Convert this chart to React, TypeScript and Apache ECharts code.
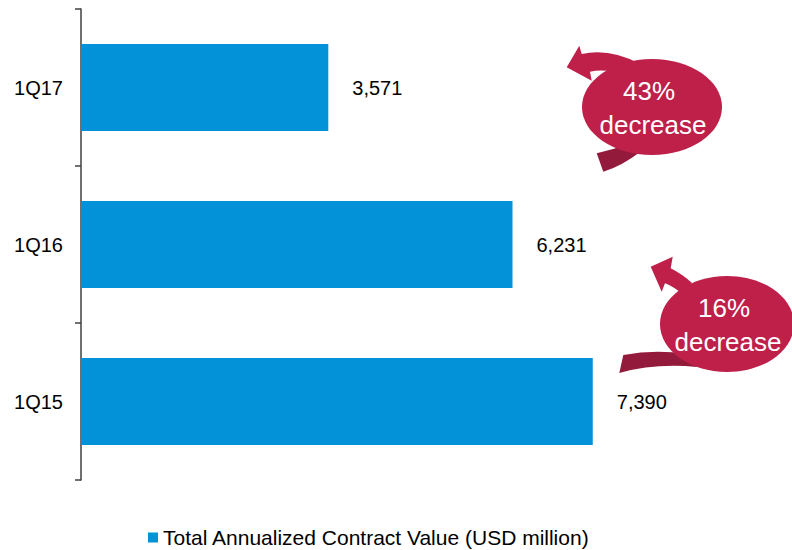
import React, { useEffect, useRef } from "react";
import * as echarts from "echarts";

const categories = ["1Q15", "1Q16", "1Q17"];
const values = [7390, 6231, 3571];
const seriesName = "Total Annualized Contract Value (USD million)";
const badges = [
  { pct: "43%", word: "decrease", cx: 652, cy: 107, rx: 70, ry: 48 },
  { pct: "16%", word: "decrease", cx: 727, cy: 324, rx: 67, ry: 48 },
];

const FONT = "Arial, 'Liberation Sans', sans-serif";
const RED = "#BE2049";
const DARK = "#941A3B";

const shapes: Record<string, string> = {
  arrowTop1:
    "M 566.7 67.3 L 579.3 45.7 L 581.7 54 Q 610 48 640 64 L 625 75 Q 605 68 590 71.7 L 591.7 80.7 Z",
  tailBot1: "M 596.7 153.3 Q 612 150 628 144 L 640 152 Q 622 166 603.3 171.7 Z",
  arrowTop2:
    "M 650.7 266.7 L 672.7 256.7 L 670.7 268.3 Q 682 274 692 283 L 680 292 Q 672 286 665 283.3 L 661.7 291.7 Z",
  tailBot2: "M 623.3 355 Q 655 349 687 354 L 697 367 Q 655 363 619.3 373 Z",
};
let registered = false;
function registerShapes() {
  if (registered) return;
  registered = true;
  Object.keys(shapes).forEach((k) => {
    echarts.graphic.registerShape(k, echarts.graphic.extendPath(shapes[k], {}) as any);
  });
}

export default function App() {
  const ref = useRef<HTMLDivElement>(null);
  useEffect(() => {
    registerShapes();
    const chart = echarts.init(ref.current!, undefined, { renderer: "svg" });
    const graphics: any[] = [];
    graphics.push({ type: "tailBot1", x: 0, y: 0, z: 10, style: { fill: DARK } });
    graphics.push({ type: "arrowTop1", x: 0, y: 0, z: 10, style: { fill: RED } });
    graphics.push({ type: "tailBot2", x: 0, y: 0, z: 10, style: { fill: DARK } });
    graphics.push({ type: "arrowTop2", x: 0, y: 0, z: 10, style: { fill: RED } });
    badges.forEach((b) => {
      graphics.push({
        type: "ellipse",
        z: 11,
        shape: { cx: b.cx, cy: b.cy, rx: b.rx, ry: b.ry },
        style: { fill: RED },
      });
      graphics.push({
        type: "text",
        z: 12,
        x: b.cx - 3,
        y: b.cy - 16,
        style: {
          text: b.pct,
          fill: "#fff",
          fontSize: 26,
          fontFamily: FONT,
          align: "center",
          verticalAlign: "middle",
        },
      });
      graphics.push({
        type: "text",
        z: 12,
        x: b.cx + 1,
        y: b.cy + 18,
        style: {
          text: b.word,
          fill: "#fff",
          fontSize: 26,
          fontFamily: FONT,
          align: "center",
          verticalAlign: "middle",
        },
      });
    });
    chart.setOption({
      animation: false,
      textStyle: { fontFamily: FONT },
      grid: { left: 81, top: 9, width: 554, height: 471, containLabel: false },
      legend: {
        data: [seriesName],
        left: 148,
        top: 527,
        padding: 0,
        icon: "rect",
        itemWidth: 10,
        itemHeight: 10,
        itemGap: 10,
        textStyle: { fontSize: 21, lineHeight: 20, color: "#000", fontFamily: FONT },
      },
      xAxis: {
        type: "value",
        min: 0,
        max: 8000,
        show: false,
      },
      yAxis: {
        type: "category",
        data: categories,
        axisLine: { show: true, lineStyle: { color: "#404040", width: 1.5 } },
        axisTick: { show: true, length: 6, inside: false, lineStyle: { color: "#404040", width: 1.5 } },
        axisLabel: { fontSize: 20, color: "#000", margin: 18, fontFamily: FONT },
        splitLine: { show: false },
      },
      series: [
        {
          name: seriesName,
          type: "bar",
          data: values,
          barCategoryGap: "44.6%",
          itemStyle: { color: "#0391D8" },
          label: {
            show: true,
            position: "right",
            distance: 24,
            fontSize: 20,
            color: "#000",
            fontFamily: FONT,
            formatter: (p: any) => Number(p.value).toLocaleString("en-US"),
          },
        },
      ],
      graphic: graphics,
    });
    return () => chart.dispose();
  }, []);
  return (
    <div
      ref={ref}
      style={{ position: "fixed", left: 0, top: 0, width: 792, height: 550, background: "#fff" }}
    />
  );
}
